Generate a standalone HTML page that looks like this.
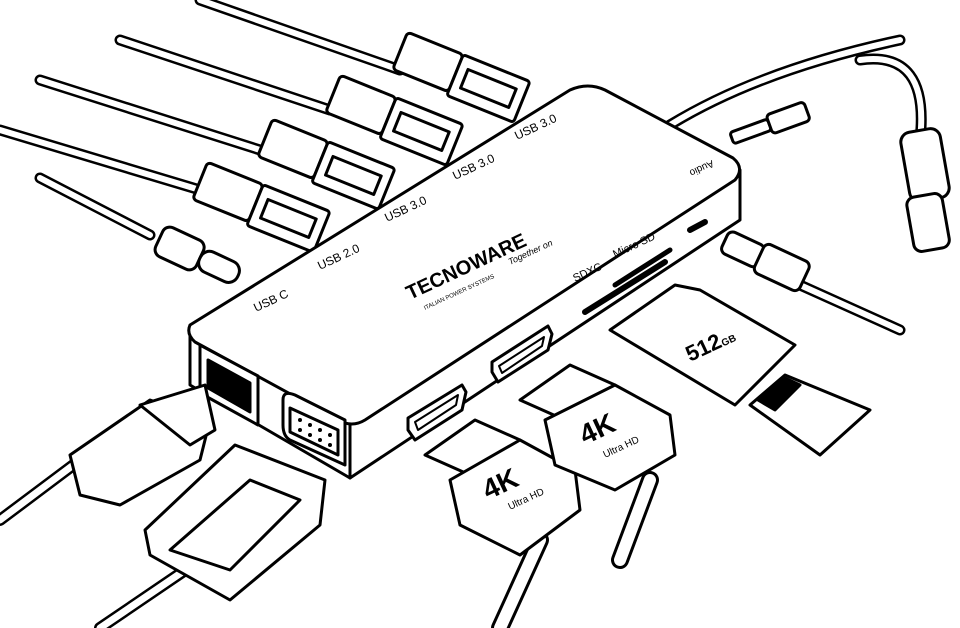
<!DOCTYPE html>
<html><head><meta charset="utf-8"><style>
html,body{margin:0;padding:0;background:#fff;width:960px;height:628px;overflow:hidden}
svg{display:block}
text{font-family:"Liberation Sans",sans-serif;fill:#000}
</style></head><body>
<svg width="960" height="628" viewBox="0 0 960 628" xmlns="http://www.w3.org/2000/svg">
<g fill="#fff" stroke="#000" stroke-width="3" stroke-linejoin="round" stroke-linecap="round">

<g fill="none" stroke-width="11"><path d="M0,130 L200,190"/><path d="M40,80 L260,150"/><path d="M120,40 L330,110"/><path d="M200,0 L400,70"/><path d="M40,178 L150,235"/></g>
<g fill="none" stroke="#fff" stroke-width="6"><path d="M0,130 L200,190"/><path d="M40,80 L260,150"/><path d="M120,40 L330,110"/><path d="M200,0 L400,70"/><path d="M40,178 L150,235"/></g>

<g transform="translate(255,205) rotate(22)"><rect x="-60" y="-22" width="60" height="40" rx="4"/><rect x="0" y="-22" width="72" height="44" rx="3"/><rect x="10" y="-10" width="52" height="20" fill="none"/></g>
<g transform="translate(320,162) rotate(22)"><rect x="-60" y="-22" width="60" height="40" rx="4"/><rect x="0" y="-22" width="72" height="44" rx="3"/><rect x="10" y="-10" width="52" height="20" fill="none"/></g>
<g transform="translate(388,118) rotate(22)"><rect x="-60" y="-22" width="60" height="40" rx="4"/><rect x="0" y="-22" width="72" height="44" rx="3"/><rect x="10" y="-10" width="52" height="20" fill="none"/></g>
<g transform="translate(455,75) rotate(22)"><rect x="-60" y="-22" width="60" height="40" rx="4"/><rect x="0" y="-22" width="72" height="44" rx="3"/><rect x="10" y="-10" width="52" height="20" fill="none"/></g>

<g transform="translate(200,258) rotate(25)"><rect x="-45" y="-16" width="45" height="32" rx="8"/><rect x="0" y="-11" width="42" height="22" rx="10"/></g>

<path d="M670,125 Q760,70 900,40" fill="none" stroke-width="11"/>
<path d="M670,125 Q760,70 900,40" fill="none" stroke="#fff" stroke-width="6"/>
<path d="M860,60 Q930,50 920,140" fill="none" stroke-width="11"/>
<path d="M860,60 Q930,50 920,140" fill="none" stroke="#fff" stroke-width="6"/>
<g transform="translate(760,128) rotate(-20)"><rect x="-30" y="-6" width="40" height="12" rx="3"/><rect x="10" y="-10" width="40" height="20" rx="4"/></g>
<rect x="905" y="130" width="40" height="70" rx="10" transform="rotate(-10 925 165)"/>
<rect x="910" y="195" width="36" height="55" rx="8" transform="rotate(-10 928 222)"/>

<path d="M190,330 L190,385 L350,478 L740,220 L740,170 Z"/>
<path d="M190,325 L570,90 Q588,82 605,90 L733,158 Q745,168 735,180 L365,420 Q352,428 338,420 L195,342 Q186,334 190,325 Z"/>
<path d="M350,425 L350,478" fill="none"/>
<path d="M200,345 L258,376 L258,425 L200,393 Z"/>
<path d="M208,360 L250,383 L250,412 L208,388 Z" fill="#000"/>
<path d="M283,400 Q283,390 295,395 L345,420 L345,465 L290,440 Q283,436 283,425 Z"/>
<path d="M290,408 L338,430 L338,455 L290,432 Z" fill="#fff"/>
<g fill="#000" stroke="none"><circle cx="300" cy="420" r="2"/><circle cx="310" cy="425" r="2"/><circle cx="320" cy="430" r="2"/><circle cx="330" cy="435" r="2"/><circle cx="300" cy="430" r="2"/><circle cx="310" cy="435" r="2"/><circle cx="320" cy="440" r="2"/><circle cx="330" cy="445" r="2"/></g>
<path d="M408,418 L462,385 L466,392 L462,410 L415,440 L408,430 Z"/>
<path d="M415,422 L458,395 L456,405 L418,430 Z" fill="none" stroke-width="2"/>
<path d="M492,362 L548,326 L552,334 L548,350 L498,382 L492,372 Z"/>
<path d="M499,366 L544,337 L542,346 L502,373 Z" fill="none" stroke-width="2"/>
<path d="M585,312 L665,262" fill="none" stroke-width="6"/>
<path d="M615,285 L670,250" fill="none" stroke-width="5"/>
<path d="M690,230 L705,222" fill="none" stroke-width="6"/>
<text font-size="12" transform="translate(455,180) rotate(-25)" stroke="none">USB 3.0</text>
<text font-size="12" transform="translate(517,140) rotate(-25)" stroke="none">USB 3.0</text>
<text font-size="12" transform="translate(387,222) rotate(-25)" stroke="none">USB 3.0</text>
<text font-size="12" transform="translate(320,270) rotate(-25)" stroke="none">USB 2.0</text>
<text font-size="12" transform="translate(256,312) rotate(-25)" stroke="none">USB C</text>
<text font-size="11" transform="translate(575,282) rotate(-25)" stroke="none">SDXC</text>
<text font-size="11" transform="translate(615,258) rotate(-25)" stroke="none">Micro SD</text>
<text font-size="10" transform="translate(712,160) rotate(155)" stroke="none">Audio</text>
<text font-size="20" font-weight="bold" transform="translate(410,300) rotate(-25)" stroke="none">TECNOWARE</text>
<text font-size="6" transform="translate(425,310) rotate(-25)" stroke="none">ITALIAN POWER SYSTEMS</text>
<text font-size="9" font-style="italic" transform="translate(510,265) rotate(-25)" stroke="none">Together on</text>

<path d="M0,520 L80,460" fill="none" stroke-width="12"/>
<path d="M0,520 L80,460" fill="none" stroke="#fff" stroke-width="7"/>
<path d="M70,455 L150,400 L210,420 L200,460 L120,505 L80,495 Z"/>
<path d="M140,405 L205,385 L215,430 L190,445 Z"/>
<path d="M100,628 L200,560" fill="none" stroke-width="12"/>
<path d="M100,628 L200,560" fill="none" stroke="#fff" stroke-width="7"/>
<path d="M145,530 L235,445 L325,480 L320,525 L230,600 L150,555 Z"/>
<path d="M170,550 L250,480 L300,500 L230,570 Z" fill="none"/>
<path d="M500,628 L540,540" fill="none" stroke-width="18"/>
<path d="M500,628 L540,540" fill="none" stroke="#fff" stroke-width="12"/>
<path d="M425,455 L475,420 L520,440 L470,475 Z"/>
<path d="M450,480 L520,440 L575,470 L580,510 L520,555 L460,525 Z"/>
<text font-size="28" font-weight="bold" transform="translate(488,500) rotate(-25)" stroke="none">4K</text>
<text font-size="10" transform="translate(510,510) rotate(-25)" stroke="none">Ultra HD</text>
<path d="M620,560 L650,480" fill="none" stroke-width="18"/>
<path d="M620,560 L650,480" fill="none" stroke="#fff" stroke-width="12"/>
<path d="M520,400 L570,365 L615,385 L565,420 Z"/>
<path d="M545,420 L615,385 L670,415 L675,455 L615,490 L555,465 Z"/>
<text font-size="28" font-weight="bold" transform="translate(585,445) rotate(-25)" stroke="none">4K</text>
<text font-size="10" transform="translate(605,458) rotate(-25)" stroke="none">Ultra HD</text>
<path d="M800,285 L900,330" fill="none" stroke-width="11"/>
<path d="M800,285 L900,330" fill="none" stroke="#fff" stroke-width="6"/>
<g transform="translate(770,262) rotate(25)"><rect x="-50" y="-12" width="40" height="24" rx="6"/><rect x="-12" y="-16" width="50" height="32" rx="6"/></g>
<path d="M610,330 L675,285 L700,290 L795,345 L735,405 Z"/>
<text font-size="22" font-weight="bold" transform="translate(690,362) rotate(-25)" stroke="none">512<tspan font-size="10">GB</tspan></text>
<path d="M750,405 L785,375 L870,410 L820,455 Z"/>
<path d="M758,400 L785,378 L800,385 L775,410 Z" fill="#000"/>
</g>
</svg>
</body></html>
